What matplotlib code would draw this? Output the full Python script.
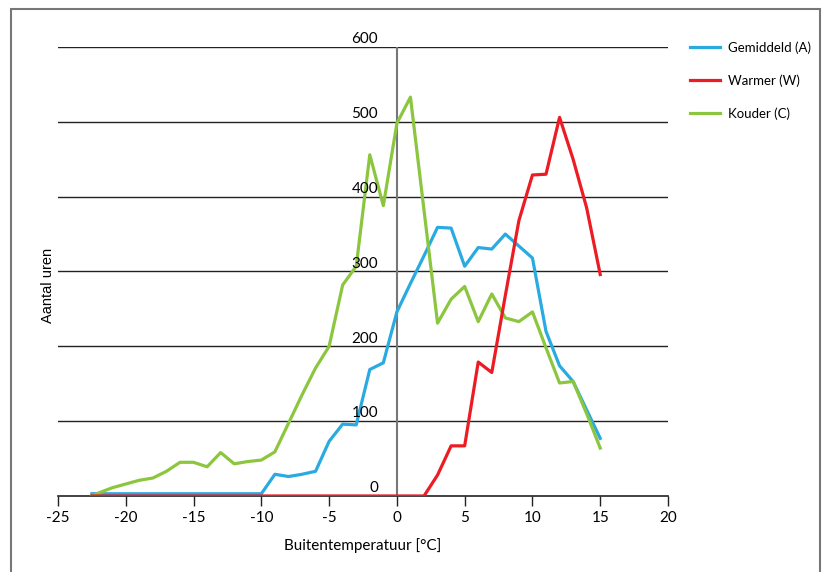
import numpy as np
import matplotlib
matplotlib.use('Agg')
import matplotlib.pyplot as plt
from matplotlib.patches import Rectangle

# temperaturen (x-as)
temps = [-22.5] + list(range(-22, 16))

# aantal uren per reeks
gemiddeld = [3, 3, 3, 3, 3, 3, 3, 3, 3, 3, 3, 3, 3, 3,
             29, 26, 29, 33, 73, 96, 95, 169, 178,
             246, 284, 321, 359, 358, 307, 332, 330, 350, 334, 318,
             220, 174, 153, 115, 77]
warmer = [0, 0, 0, 0, 0, 0, 0, 0, 0, 0, 0, 0, 0, 0,
          0, 0, 0, 0, 0, 0, 0, 0, 0,
          0, 0, 0, 28, 67, 67, 179, 165, 268, 368, 429,
          430, 506, 450, 385, 296]
kouder = [0, 4, 11, 16, 21, 24, 33, 45, 45, 39, 58, 43, 46, 48,
          59, 97, 135, 171, 200, 282, 307, 456, 388,
          498, 533, 382, 231, 263, 280, 233, 270, 238, 233, 246,
          198, 151, 153, 110, 64]

reeksen = ['Gemiddeld (A)', 'Warmer (W)', 'Kouder (C)']
kleuren = ['#29abe2', '#ed1c24', '#8cc63f']

yticks = [0, 100, 200, 300, 400, 500, 600]
xticks = [-25, -20, -15, -10, -5, 0, 5, 10, 15, 20]

font = ['Lato', 'DejaVu Sans']

fig = plt.figure(figsize=(8.25, 5.72), dpi=100)
ax = fig.add_axes([0.0703, 0.1329, 0.7394, 0.7849])

# rand om de figuur
fig.patches.append(Rectangle((11 / 825, -0.05), (820 - 11) / 825, 1.05 - 9 / 572,
                             transform=fig.transFigure, fill=False,
                             edgecolor='#777777', linewidth=1.5))

for v in yticks[1:]:
    ax.axhline(v, color='#222222', linewidth=1.0, zorder=1)
ax.axvline(0, color='#777777', linewidth=1.5, zorder=1)

ax.plot(temps, gemiddeld, color=kleuren[0], linewidth=2.3, label=reeksen[0], zorder=3)
ax.plot(temps, warmer, color=kleuren[1], linewidth=2.3, label=reeksen[1], zorder=4)
ax.plot(temps, kouder, color=kleuren[2], linewidth=2.3, label=reeksen[2], zorder=3)

ax.set_xlim(-25, 20)
ax.set_ylim(0, 600)
ax.set_xticks(xticks)
ax.set_xticklabels([str(t) for t in xticks], family=font, fontsize=11)
ax.set_yticks([])
ax.tick_params(axis='x', direction='out', length=7, width=1, color='#222222', pad=4)

for s in ['top', 'right', 'left']:
    ax.spines[s].set_visible(False)
ax.spines['bottom'].set_color('#222222')
ax.spines['bottom'].set_linewidth(1.2)

# y-waarden boven de rasterlijnen, links van 0
for v in yticks:
    ax.text(-1.4, v + 1, str(v), ha='right', va='bottom', family=font, fontsize=11)

ax.set_xlabel('Buitentemperatuur [°C]', family=font, fontsize=11, labelpad=9)
fig.text(48 / 825, 1 - 285 / 572, 'Aantal uren', rotation=90, ha='center', va='center',
         family=['Liberation Sans', 'DejaVu Sans'], fontsize=10.5)

leg = ax.legend(loc='upper left', bbox_to_anchor=(690 / 825, 1 - 41 / 572),
                bbox_transform=fig.transFigure, borderpad=0, borderaxespad=0,
                frameon=False, handlelength=2.3, labelspacing=1.55, handletextpad=0.55,
                prop={'family': font, 'size': 9.5})

fig.savefig('out.png', dpi=100)
